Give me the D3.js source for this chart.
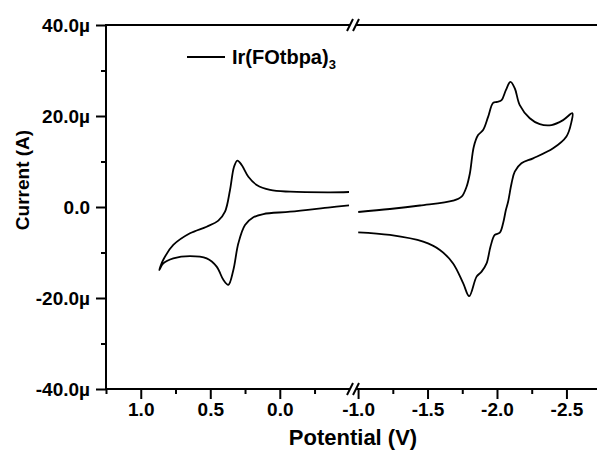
<!DOCTYPE html>
<html>
<head>
<meta charset="utf-8">
<script src="https://cdn.jsdelivr.net/npm/d3@7"></script>
<style>
  body { margin: 0; background: #fff; }
  svg text { font-family: "Liberation Sans", Arial, sans-serif; font-weight: bold; fill: #000; }
</style>
</head>
<body>
<div id="chart"></div>
<script>
// CV data, potential in V, current in microamps
var leftPotential = [-0.498, -0.362, -0.074, 0.070, 0.166, 0.226, 0.274, 0.305, 0.329, 0.358, 0.394, 0.442, 0.526, 0.646, 0.766, 0.838, 0.867,
                     0.838, 0.766, 0.646, 0.526, 0.454, 0.406, 0.370, 0.334, 0.298, 0.250, 0.190, 0.118, -0.074, -0.362, -0.498];
var leftCurrent = [3.3, 3.23, 3.36, 3.74, 4.84, 6.66, 9.23, 10.2, 8.86, 3.74, -1.03, -3.0, -4.33, -5.78, -8.35, -11.6, -13.85,
                   -12.4, -11.3, -10.8, -11.3, -13.1, -16.0, -17.1, -13.85, -7.98, -3.96, -2.26, -1.54, -1.03, -0.07, 0.37];

var rightPotential = [-1.001, -1.229, -1.445, -1.684, -1.745, -1.781, -1.805, -1.833, -1.864, -1.900, -1.936, -1.972, -2.001, -2.033,
                      -2.064, -2.097, -2.128, -2.164, -2.236, -2.308, -2.392, -2.476, -2.543,
                      -2.536, -2.500, -2.404, -2.260, -2.176, -2.128, -2.105, -2.080, -2.064, -2.044, -2.020, -1.984, -1.953,
                      -1.925, -1.889, -1.853, -1.800, -1.757, -1.684, -1.589, -1.469, -1.229, -1.001];
var rightCurrent = [-1.10, -0.44, 0.33, 1.38, 2.26, 4.46, 7.41, 13.25, 15.8, 16.9, 19.8, 22.9, 23.1, 23.5,
                    25.7, 27.5, 26.1, 22.4, 19.5, 18.2, 18.0, 19.1, 20.6,
                    18.7, 15.5, 12.9, 10.7, 9.6, 7.76, 5.21, 1.16, -0.66, -3.58, -5.65, -6.15, -8.73,
                    -12.4, -14.2, -15.3, -19.6, -16.8, -12.4, -9.45, -7.63, -6.15, -5.56];

// ticks
var yMajor = [-40, -20, 0, 20, 40];
var yMinor = [-30, -10, 10, 30];
var yLabels = ["-40.0\u00b5", "-20.0\u00b5", "0.0", "20.0\u00b5", "40.0\u00b5"];
var leftMajor = [1.0, 0.5, 0.0];
var leftLabels = ["1.0", "0.5", "0.0"];
var leftMinor = [1.25, 0.75, 0.25, -0.25];
var rightMajor = [-1.0, -1.5, -2.0, -2.5];
var rightLabels = ["-1.0", "-1.5", "-2.0", "-2.5"];
var rightMinor = [-1.25, -1.75, -2.25];

var legendLabel = "Ir(FOtbpa)";
var legendSub = "3";

var width = 597, height = 450;
var plotTop = 25, plotBottom = 389, plotLeft = 106;
var breakL = 350, breakR = 356;

var svg = d3.select("#chart").append("svg")
  .attr("width", width)
  .attr("height", height);

var y = d3.scaleLinear().domain([-40, 40]).range([plotBottom, plotTop]);
var xL = d3.scaleLinear().domain([1.25, -0.505]).range([plotLeft, breakL]);
var xR = d3.scaleLinear().domain([-0.985, -2.72]).range([breakR, width]);

// curves
var line = function(xs) {
  return d3.line()
    .x(function(d) { return xs(d[0]); })
    .y(function(d) { return y(d[1]); })
    .curve(d3.curveCatmullRom.alpha(0.5));
};

svg.append("path")
  .datum(d3.zip(leftPotential, leftCurrent))
  .attr("d", line(xL))
  .attr("fill", "none").attr("stroke", "#000").attr("stroke-width", 1.8);

svg.append("path")
  .datum(d3.zip(rightPotential, rightCurrent))
  .attr("d", line(xR))
  .attr("fill", "none").attr("stroke", "#000").attr("stroke-width", 1.8);

// axes
var axisStyle = function(g) {
  g.attr("font-size", null).attr("font-family", null);
  g.select(".domain").remove();
  g.selectAll("line").attr("stroke", "#000").attr("stroke-width", 2);
  g.selectAll("text").style("font-size", "19px");
};

svg.append("g")
  .attr("transform", "translate(" + plotLeft + ",0)")
  .call(d3.axisLeft(y).tickValues(yMajor).tickSize(10).tickPadding(6)
    .tickFormat(function(d, i) { return yLabels[i]; }))
  .call(axisStyle);
svg.append("g")
  .attr("transform", "translate(" + plotLeft + ",0)")
  .call(d3.axisLeft(y).tickValues(yMinor).tickSize(5).tickFormat(""))
  .call(axisStyle);

[[xL, leftMajor, leftMinor, leftLabels], [xR, rightMajor, rightMinor, rightLabels]].forEach(function(s) {
  svg.append("g")
    .attr("transform", "translate(0," + plotBottom + ")")
    .call(d3.axisBottom(s[0]).tickValues(s[1]).tickSize(10).tickPadding(4)
      .tickFormat(function(d, i) { return s[3][i]; }))
    .call(axisStyle);
  svg.append("g")
    .attr("transform", "translate(0," + plotBottom + ")")
    .call(d3.axisBottom(s[0]).tickValues(s[2]).tickSize(5).tickFormat(""))
    .call(axisStyle);
});

// axis lines with break
var frame = svg.append("g").attr("stroke", "#000").attr("stroke-width", 2).attr("fill", "none");
frame.append("line").attr("x1", plotLeft).attr("x2", plotLeft).attr("y1", plotTop - 1).attr("y2", plotBottom + 1);
[plotTop, plotBottom].forEach(function(yy) {
  frame.append("line").attr("x1", plotLeft).attr("x2", breakL).attr("y1", yy).attr("y2", yy);
  frame.append("line").attr("x1", breakR).attr("x2", width).attr("y1", yy).attr("y2", yy);
  [breakL, breakR].forEach(function(bx) {
    frame.append("line").attr("x1", bx - 3).attr("x2", bx + 3).attr("y1", yy + 6).attr("y2", yy - 6);
  });
});

// axis titles
svg.append("text")
  .attr("x", 353).attr("y", 445)
  .attr("text-anchor", "middle")
  .style("font-size", "22px")
  .text("Potential (V)");

svg.append("text")
  .attr("transform", "translate(29,180) rotate(-90)")
  .attr("text-anchor", "middle")
  .style("font-size", "19px")
  .text("Current (A)");

// legend
svg.append("line")
  .attr("x1", 187).attr("x2", 225).attr("y1", 57).attr("y2", 57)
  .attr("stroke", "#000").attr("stroke-width", 1.8);
var lt = svg.append("text")
  .attr("x", 232).attr("y", 64)
  .style("font-size", "20px")
  .text(legendLabel);
lt.append("tspan")
  .attr("dy", 5)
  .style("font-size", "13px")
  .text(legendSub);
</script>
</body>
</html>
